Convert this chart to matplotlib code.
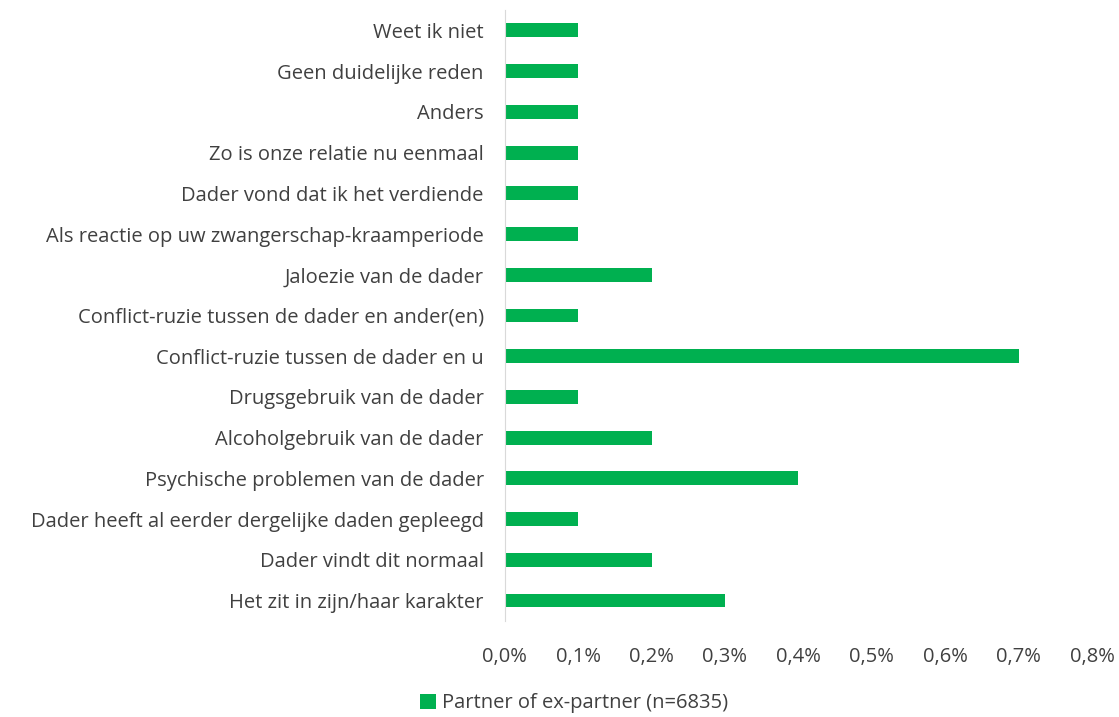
import matplotlib
matplotlib.use("Agg")
import matplotlib.pyplot as plt
from matplotlib.ticker import FuncFormatter

plt.rcParams['font.family'] = ['Open Sans', 'DejaVu Sans']

categories = [
    "Het zit in zijn/haar karakter",
    "Dader vindt dit normaal",
    "Dader heeft al eerder dergelijke daden gepleegd",
    "Psychische problemen van de dader",
    "Alcoholgebruik van de dader",
    "Drugsgebruik van de dader",
    "Conflict-ruzie tussen de dader en u",
    "Conflict-ruzie tussen de dader en ander(en)",
    "Jaloezie van de dader",
    "Als reactie op uw zwangerschap-kraamperiode",
    "Dader vond dat ik het verdiende",
    "Zo is onze relatie nu eenmaal",
    "Anders",
    "Geen duidelijke reden",
    "Weet ik niet",
]
values = [0.3, 0.2, 0.1, 0.4, 0.2, 0.1, 0.7, 0.1, 0.2, 0.1, 0.1, 0.1, 0.1, 0.1, 0.1]
series_name = "Partner of ex-partner (n=6835)"
xticks = [0.0, 0.1, 0.2, 0.3, 0.4, 0.5, 0.6, 0.7, 0.8]

fig = plt.figure(figsize=(11.19, 7.17), dpi=100)
ax = fig.add_axes([0.451, 0.134, 0.525, 0.852])

ax.barh(range(len(categories)), values, height=0.34, color="#00B050",
        label=series_name)
ax.set_yticks(range(len(categories)))
ax.set_yticklabels(categories, fontsize=14.5, color="#404040")
ax.set_ylim(-0.5, len(categories) - 0.5)
ax.set_xlim(0, 0.8)
ax.set_xticks(xticks)
ax.xaxis.set_major_formatter(FuncFormatter(lambda v, p: f"{v:.1f}%".replace(".", ",")))
ax.tick_params(axis="x", length=0, pad=19, labelsize=14.5, labelcolor="#404040")
ax.tick_params(axis="y", length=0, pad=15)

for s in ["top", "right", "bottom"]:
    ax.spines[s].set_visible(False)
ax.spines["left"].set_color("#D9D9D9")

leg = fig.legend(loc="lower center", bbox_to_anchor=(0.513, -0.02), frameon=False,
                 fontsize=14.5, handlelength=0.75, handleheight=0.75, handletextpad=0.3)
for t in leg.get_texts():
    t.set_color("#404040")

fig.savefig("out.png", dpi=100)
